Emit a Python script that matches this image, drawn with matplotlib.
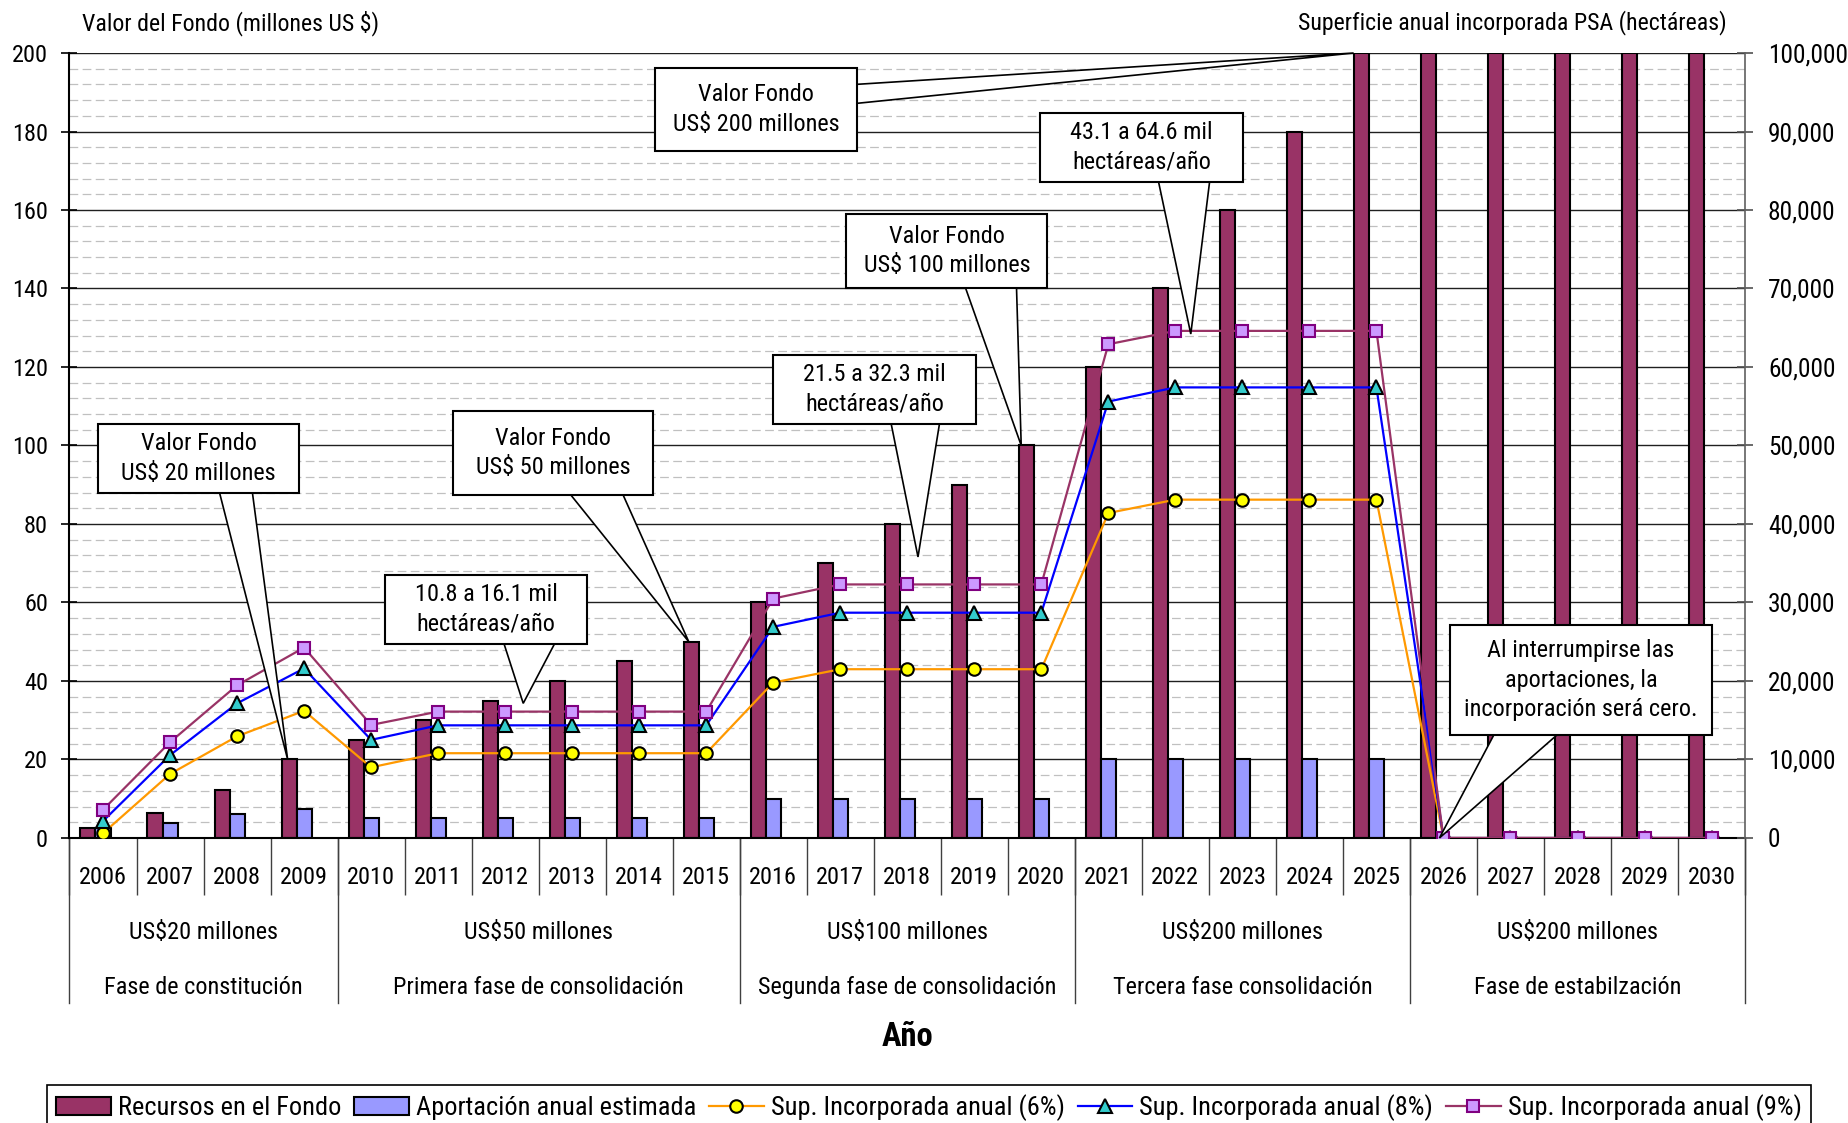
import numpy as np
import matplotlib
matplotlib.use('Agg')
import matplotlib.pyplot as plt
from matplotlib.ticker import MultipleLocator, FuncFormatter
from matplotlib.patches import Polygon, Rectangle
from matplotlib import font_manager

# pick a narrow face if one is installed
fonts = font_manager.fontManager.ttflist
family, stretch, FS = 'Liberation Sans', 'normal', 15
for name in ['Liberation Sans Narrow', 'Arial Narrow', 'Roboto Condensed',
             'Open Sans Condensed', 'Noto Sans Condensed']:
    if any(f.name == name for f in fonts):
        family, FS = name, 17.5
        break
else:
    for name in ['DejaVu Sans', 'Noto Sans', 'Open Sans', 'Roboto']:
        if any(f.name == name and 'condensed' in str(f.stretch) for f in fonts):
            family, stretch, FS = name, 'condensed', 17.5
            break
plt.rcParams['font.family'] = [family, 'DejaVu Sans']
plt.rcParams['font.stretch'] = stretch

years = list(range(2006, 2031))
recursos = [2.5, 6.25, 12.25, 20, 25, 30, 35, 40, 45, 50, 60, 70, 80, 90, 100,
            120, 140, 160, 180, 200, 200, 200, 200, 200, 200]
aportacion = [2.5, 3.75, 6, 7.5, 5, 5, 5, 5, 5, 5, 10, 10, 10, 10, 10,
              20, 20, 20, 20, 20, 0, 0, 0, 0, 0]
sup_6 = [600, 8150, 12950, 16200, 9000, 10800, 10800, 10800, 10800, 10800,
         19800, 21500, 21500, 21500, 21500, 41400, 43100, 43100, 43100, 43100,
         0, 0, 0, 0, 0]
sup_8 = [2150, 10550, 17150, 21600, 12500, 14350, 14350, 14350, 14350, 14350,
         26900, 28700, 28700, 28700, 28700, 55600, 57400, 57400, 57400, 57400,
         0, 0, 0, 0, 0]
sup_9 = [3600, 12200, 19450, 24250, 14400, 16100, 16100, 16100, 16100, 16100,
         30500, 32300, 32300, 32300, 32300, 62900, 64600, 64600, 64600, 64600,
         0, 0, 0, 0, 0]

group_sizes = [4, 6, 5, 5, 5]
group_amounts = ['US$20 millones', 'US$50 millones', 'US$100 millones',
                 'US$200 millones', 'US$200 millones']
group_phases = ['Fase de constitución', 'Primera fase de consolidación',
                'Segunda fase de consolidación', 'Tercera fase consolidación',
                'Fase de estabilzación']

# callouts: text, box (x0, x1, y0, y1) in category index / left-axis units,
# tip (x, y), wedge base (edge, centre, width) on the box edge
callouts = [
    ('Valor Fondo\nUS$ 20 millones', (-0.075, 2.925, 87.9, 105.5),
     (2.755, recursos[3]), ('bottom', 1.985, 0.49)),
    ('Valor Fondo\nUS$ 50 millones', (5.22, 8.21, 87.4, 108.8),
     (8.74, recursos[9]), ('bottom', 7.37, 0.78)),
    ('10.8 a 16.1 mil\nhectáreas/año', (4.21, 7.22, 49.4, 67.0),
     (6.27, 34.3), ('bottom', 6.36, 0.75)),
    ('Valor Fondo\nUS$ 100 millones', (11.09, 14.09, 140.1, 159.0),
     (13.70, recursos[14]), ('bottom', 13.25, 0.76)),
    ('21.5 a 32.3 mil\nhectáreas/año', (9.99, 13.03, 105.5, 123.1),
     (12.16, 71.6), ('bottom', 12.12, 0.72)),
    ('43.1 a 64.6 mil\nhectáreas/año', (13.98, 17.01, 167.1, 184.7),
     (16.23, 128.4), ('bottom', 16.13, 0.76)),
    ('Valor Fondo\nUS$ 200 millones', (8.24, 11.25, 175.0, 196.2),
     (18.66, recursos[19]), ('right', 189.6, 4.84)),
    ('Al interrumpirse las\naportaciones, la\nincorporación será cero.',
     (20.10, 24.00, 26.2, 54.3), (19.94, 0), ('bottom', 21.22, 0.94)),
]

fig = plt.figure(figsize=(18.48, 11.23), dpi=100)
fig.subplots_adjust(left=0.0376, right=0.9443, bottom=0.2538, top=0.9528)
ax = fig.add_subplot(111)
ax2 = ax.twinx()

x = np.arange(len(years))
w = 0.224
b1 = ax.bar(x - w, recursos, width=w, color='#993366', edgecolor='black',
            linewidth=1.5, label='Recursos en el Fondo')
b2 = ax.bar(x, aportacion, width=w, color='#9999FF', edgecolor='black',
            linewidth=1.5, label='Aportación anual estimada')

l1, = ax2.plot(x, sup_6, color='#FF9900', lw=1.6, marker='o', ms=9,
               mfc='#FFFF00', mec='black', mew=1.5,
               label='Sup. Incorporada anual (6%)')
l2, = ax2.plot(x, sup_8, color='#0000FF', lw=1.6, marker='^', ms=10,
               mfc='#33CCCC', mec='black', mew=1.5,
               label='Sup. Incorporada anual (8%)')
l3, = ax2.plot(x, sup_9, color='#993366', lw=1.6, marker='s', ms=9,
               mfc='#CC99FF', mec='#800080', mew=1.5,
               label='Sup. Incorporada anual (9%)')

# callout boxes with wedge pointers, drawn above the lines
for text, (x0, x1, y0, y1), tip, (edge, c, bw) in callouts:
    if edge == 'bottom':
        base = [(c - bw / 2, y0), (c + bw / 2, y0)]
    else:
        base = [(x1, c + bw / 2), (x1, c - bw / 2)]
    ax2.add_patch(Polygon([base[0], tip, base[1]], closed=True, fc='white',
                          ec='black', lw=1.2, transform=ax.transData,
                          zorder=10, clip_on=False))
    ax2.add_patch(Rectangle((x0, y0), x1 - x0, y1 - y0, fc='white', ec='black',
                            lw=1.5, transform=ax.transData, zorder=11,
                            clip_on=False))
    ax2.text((x0 + x1) / 2, (y0 + y1) / 2, text, transform=ax.transData,
             ha='center', va='center', fontsize=FS, linespacing=1.35,
             zorder=12)

ax.set_xlim(-0.5, len(years) - 0.5)
ax.set_ylim(0, 200)
ax2.set_ylim(0, 100000)
ax.yaxis.set_major_locator(MultipleLocator(20))
ax.yaxis.set_minor_locator(MultipleLocator(4))
ax2.yaxis.set_major_locator(MultipleLocator(10000))
ax2.yaxis.set_major_formatter(FuncFormatter(lambda v, p: f'{v:,.0f}'))

ax.set_axisbelow(True)
ax.grid(axis='y', which='major', color='#202020', lw=1)
ax.grid(axis='y', which='minor', color='#C0C0C0', lw=0.9, ls=(0, (7, 3.5)))
ax.tick_params(axis='y', which='major', direction='inout', length=12, width=1.2,
               pad=9.5, labelsize=FS)
ax.tick_params(axis='y', which='minor', length=0)
ax2.tick_params(axis='y', which='major', direction='inout', length=12, width=1.2,
                pad=10.5, labelsize=FS + 0.8, color='#505050')

ax.set_xticks(x)
ax.set_xticklabels(years)
ax.tick_params(axis='x', which='major', length=0, pad=20.5, labelsize=FS)
ax.set_xticks(np.arange(-0.5, len(years), 1), minor=True)
ax.tick_params(axis='x', which='minor', length=41, width=1, color='#404040')

for a in (ax, ax2):
    a.spines['top'].set_visible(False)
ax.spines['right'].set_visible(False)
ax2.spines['left'].set_visible(False)
ax2.spines['bottom'].set_visible(False)
ax2.spines['right'].set_color('#606060')
ax2.spines['right'].set_linewidth(1.2)
ax.spines['left'].set_linewidth(1.5)
ax.spines['bottom'].set_linewidth(1.5)

# phase groups below the years
bounds = np.concatenate([[0], np.cumsum(group_sizes)]) - 0.5
for bnd in bounds:
    ax.plot([bnd, bnd], [0, -0.21], transform=ax.get_xaxis_transform(),
            color='#404040', lw=1, clip_on=False)
for i in range(len(group_sizes)):
    cx = (bounds[i] + bounds[i + 1]) / 2
    ax.text(cx, -0.121, group_amounts[i], transform=ax.get_xaxis_transform(),
            ha='center', va='center', fontsize=FS)
    ax.text(cx, -0.190, group_phases[i], transform=ax.get_xaxis_transform(),
            ha='center', va='center', fontsize=FS)
ax.text(0.5, -0.2535, 'Año', transform=ax.transAxes, ha='center', va='center',
        fontsize=FS + 6, fontweight='bold')

fig.text(82 / 1848, 1 - 23 / 1123, 'Valor del Fondo (millones US $)',
         ha='left', va='center', fontsize=FS - 0.3)
fig.text(1727 / 1848, 1 - 23 / 1123, 'Superficie anual incorporada PSA (hectáreas)',
         ha='right', va='center', fontsize=FS - 0.3)

handles = [b1, b2, l1, l2, l3]
labels = [h.get_label() for h in handles]
leg = fig.legend(handles, labels, loc='upper left', ncol=5, mode='expand',
                 bbox_to_anchor=(47 / 1848, -0.1, 1764 / 1848, 0.1339),
                 borderaxespad=0, fontsize=FS + 1.5, handlelength=2.07,
                 handletextpad=0.27, numpoints=1, fancybox=False,
                 framealpha=1, borderpad=0.35)
leg.get_frame().set_edgecolor('black')
leg.get_frame().set_linewidth(1.2)

fig.savefig('out.png', dpi=100)
